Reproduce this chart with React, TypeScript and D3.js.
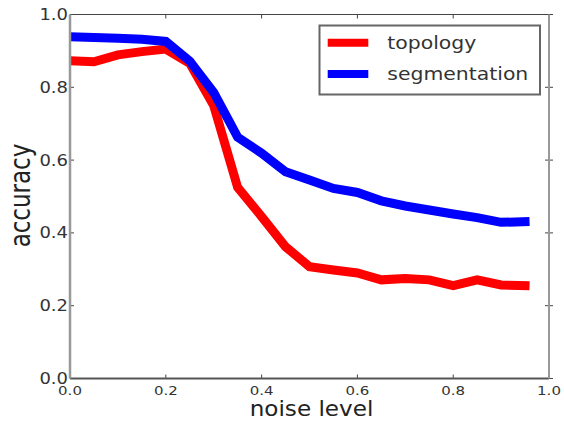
import React from "react";
import * as d3 from "d3";

// noise levels (x) and accuracy per method
const noiseLevels = [0, 0.05, 0.1, 0.15, 0.2, 0.25, 0.3, 0.35, 0.4, 0.45, 0.5, 0.55, 0.6, 0.65, 0.7, 0.75, 0.8, 0.85, 0.9, 0.95];
const topology = [0.873, 0.87, 0.889, 0.898, 0.905, 0.866, 0.75, 0.525, 0.445, 0.362, 0.307, 0.298, 0.29, 0.271, 0.275, 0.271, 0.255, 0.271, 0.257, 0.255];
const segmentation = [0.939, 0.937, 0.935, 0.932, 0.926, 0.872, 0.786, 0.663, 0.619, 0.568, 0.545, 0.522, 0.511, 0.488, 0.474, 0.463, 0.452, 0.442, 0.429, 0.431];
const tickValues = [0, 0.2, 0.4, 0.6, 0.8, 1.0];
const seriesNames = ["topology", "segmentation"];
const seriesColors = ["#ff0000", "#0000ff"];

const App = () => {
    const width = 564;
    const height = 423;
    const left = 70, right = 549, top = 14.5, bottom = 378.5;

    const x = d3.scaleLinear().domain([0, 1]).range([left, right]);
    const y = d3.scaleLinear().domain([0, 1]).range([bottom, top]);
    const fmt = d3.format(".1f");

    const line = d3.line<number>()
        .x((_, i) => x(noiseLevels[i]))
        .y((d) => y(d));

    const series = [topology, segmentation];

    return (
        <svg width={width} height={height} style={{ position: "absolute", left: 0, top: 0, background: "#fff" }}
            fontFamily="DejaVu Sans, sans-serif">
            <defs>
                <clipPath id="plot">
                    <rect x={left} y={top} width={right - left} height={bottom - top} />
                </clipPath>
            </defs>

            {/* lines */}
            <g clipPath="url(#plot)">
                {series.map((s, i) => (
                    <path key={i} d={line(s) || ""} fill="none" stroke={seriesColors[i]}
                        strokeWidth={9} strokeLinecap="square" strokeLinejoin="miter" />
                ))}
            </g>

            {/* ticks inside */}
            {tickValues.map((t) => (
                <g key={"t" + t} stroke="#444" strokeWidth={1}>
                    <line x1={left} x2={left + 4} y1={y(t)} y2={y(t)} />
                    <line x1={right - 4} x2={right + 4} y1={y(t)} y2={y(t)} />
                    <line x1={x(t)} x2={x(t)} y1={bottom} y2={bottom - 4} />
                    <line x1={x(t)} x2={x(t)} y1={top} y2={top + 4} />
                </g>
            ))}

            {/* spines */}
            <line x1={left} x2={right} y1={top} y2={top} stroke="#444" strokeWidth={1} />
            <line x1={left} x2={right} y1={bottom} y2={bottom} stroke="#555" strokeWidth={2} />
            <line x1={left} x2={left} y1={top} y2={bottom} stroke="#999" strokeWidth={2.5} />
            <line x1={right} x2={right} y1={top} y2={bottom} stroke="#999" strokeWidth={2} />

            {/* y tick labels */}
            {tickValues.map((t) => (
                <text key={"yl" + t} transform={`translate(68,${y(t) + 5.5}) scale(1.2,1)`}
                    textAnchor="end" fontSize={15} fill="#333">{fmt(t)}</text>
            ))}

            {/* x tick labels */}
            {tickValues.map((t) => (
                <text key={"xl" + t} transform={`translate(${x(t)},395) scale(1.2,1)`}
                    textAnchor="middle" fontSize={12.5} fill="#333">{fmt(t)}</text>
            ))}

            {/* axis labels */}
            <text transform="translate(311.5,416) scale(1.05,1)" textAnchor="middle" fontSize={22} fill="#222">noise level</text>
            <text transform={`translate(30,${(top + bottom) / 2 - 1}) scale(1.2,1) rotate(-90)`} textAnchor="middle"
                fontSize={23} fill="#222">accuracy</text>

            {/* legend */}
            <rect x={319.5} y={25.5} width={220.5} height={69} fill="#fff" stroke="#666" strokeWidth={2} />
            {seriesNames.map((name, i) => (
                <g key={name}>
                    <line x1={327.7} x2={368.3} y1={42.7 + i * 31.3} y2={42.7 + i * 31.3}
                        stroke={seriesColors[i]} strokeWidth={8} />
                    <text transform={`translate(387.3,${49 + i * 31.3}) scale(1.2,1)`} fontSize={17} fill="#333">{name}</text>
                </g>
            ))}
        </svg>
    );
};

export default App;
